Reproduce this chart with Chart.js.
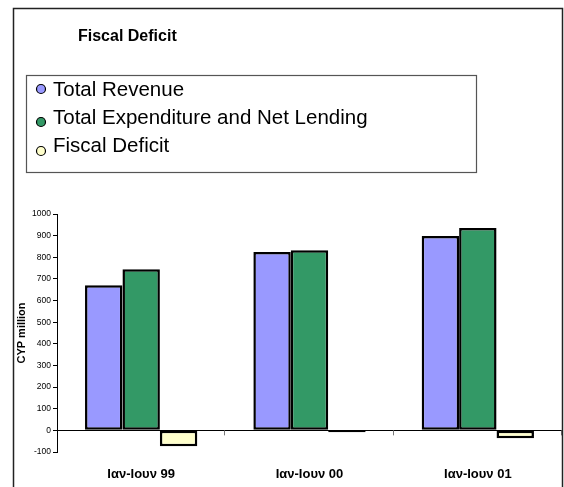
<!DOCTYPE html>
<html>
<head>
<meta charset="utf-8">
<script src="https://cdn.jsdelivr.net/npm/chart.js@4/dist/chart.umd.min.js"></script>
<style>
    html, body { margin: 0; padding: 0; background: #fff; }
    canvas { display: block; }
</style>
</head>
<body>
<canvas id="fiscalChart" width="564" height="487"></canvas>
<script>
// Chart data
const periods = ['Ιαν-Ιουν 99', 'Ιαν-Ιουν 00', 'Ιαν-Ιουν 01'];
const totalRevenue = [671, 824, 898];
const totalExpenditure = [745, 833, 935];
const fiscalDeficit = [-74, -9, -37];
const seriesNames = ['Total Revenue', 'Total Expenditure and Net Lending', 'Fiscal Deficit'];
const seriesColors = ['#9999FF', '#339966', '#FFFFCC'];
const yTicks = { min: -100, max: 1000, step: 100 };

const FONT = "'Liberation Sans', Arial, sans-serif";

// Frame, title, legend box and the zero line
const decorPlugin = {
    id: 'decor',
    afterDatasetsDraw(chart) {
        const ctx = chart.ctx;
        const area = chart.chartArea;
        const y0 = chart.scales.y.getPixelForValue(0);
        const n = chart.data.labels.length;
        const step = (area.right - area.left) / n;

        ctx.save();
        ctx.strokeStyle = '#000';
        ctx.lineWidth = 1;
        ctx.beginPath();
        ctx.moveTo(area.left, Math.round(y0) + 0.5);
        ctx.lineTo(area.right, Math.round(y0) + 0.5);
        ctx.stroke();

        ctx.strokeStyle = '#777';
        for (let i = 1; i <= n; i++) {
            const x = Math.round(area.left + i * step) - 0.5;
            ctx.beginPath();
            ctx.moveTo(x, y0);
            ctx.lineTo(x, y0 + 5);
            ctx.stroke();
        }
        ctx.restore();
    },
    afterDraw(chart) {
        const ctx = chart.ctx;
        ctx.save();

        // outer frame
        ctx.strokeStyle = '#222';
        ctx.lineWidth = 1.5;
        ctx.strokeRect(13.5, 8.5, 549, 490);

        // title
        ctx.fillStyle = '#000';
        ctx.font = 'bold 16px ' + FONT;
        ctx.textBaseline = 'alphabetic';
        ctx.textAlign = 'left';
        ctx.fillText('Fiscal Deficit', 78, 41);

        // legend box
        ctx.strokeStyle = '#555';
        ctx.lineWidth = 1.2;
        ctx.strokeRect(26.5, 75.5, 450, 97);

        const textY = [96, 124, 152];
        const markY = [89, 122, 151];
        ctx.font = '20.5px ' + FONT;
        chart.data.datasets.forEach((ds, i) => {
            ctx.beginPath();
            ctx.arc(41, markY[i], 4.5, 0, Math.PI * 2);
            ctx.fillStyle = ds.backgroundColor;
            ctx.fill();
            ctx.strokeStyle = '#000';
            ctx.lineWidth = 1.2;
            ctx.stroke();
            ctx.fillStyle = '#000';
            ctx.fillText(ds.label, 53, textY[i]);
        });
        ctx.restore();
    }
};

const ctx = document.getElementById('fiscalChart').getContext('2d');
new Chart(ctx, {
    type: 'bar',
    data: {
        labels: periods,
        datasets: [
            { label: seriesNames[0], data: totalRevenue, backgroundColor: seriesColors[0] },
            { label: seriesNames[1], data: totalExpenditure, backgroundColor: seriesColors[1] },
            { label: seriesNames[2], data: fiscalDeficit, backgroundColor: seriesColors[2] }
        ]
    },
    options: {
        responsive: false,
        animation: false,
        devicePixelRatio: 1,
        layout: { padding: { top: 214, left: 13, right: 2, bottom: 0 } },
        datasets: {
            bar: {
                borderColor: '#000',
                borderWidth: 2.5,
                borderSkipped: false,
                categoryPercentage: 0.667,
                barPercentage: 1
            }
        },
        plugins: {
            legend: { display: false },
            tooltip: { enabled: false }
        },
        scales: {
            x: {
                offset: true,
                grid: { display: false },
                border: { display: false },
                ticks: {
                    color: '#000',
                    font: { family: FONT, size: 13, weight: 'bold' },
                    padding: 7,
                    maxRotation: 0
                },
                afterFit(scale) { scale.height = 35; }
            },
            y: {
                min: yTicks.min,
                max: yTicks.max,
                ticks: {
                    stepSize: yTicks.step,
                    color: '#000',
                    font: { family: FONT, size: 8.5 },
                    padding: 2,
                    callback: v => String(v)
                },
                grid: {
                    drawOnChartArea: false,
                    drawTicks: true,
                    tickLength: 4,
                    tickColor: '#000'
                },
                border: { display: true, color: '#000', width: 1 },
                title: {
                    display: true,
                    text: 'CYP million',
                    color: '#000',
                    font: { family: FONT, size: 11, weight: 'bold' },
                    padding: { top: 2, bottom: 0 }
                },
                afterFit(scale) { scale.width = 44; }
            }
        }
    },
    plugins: [decorPlugin]
});
</script>
</body>
</html>
